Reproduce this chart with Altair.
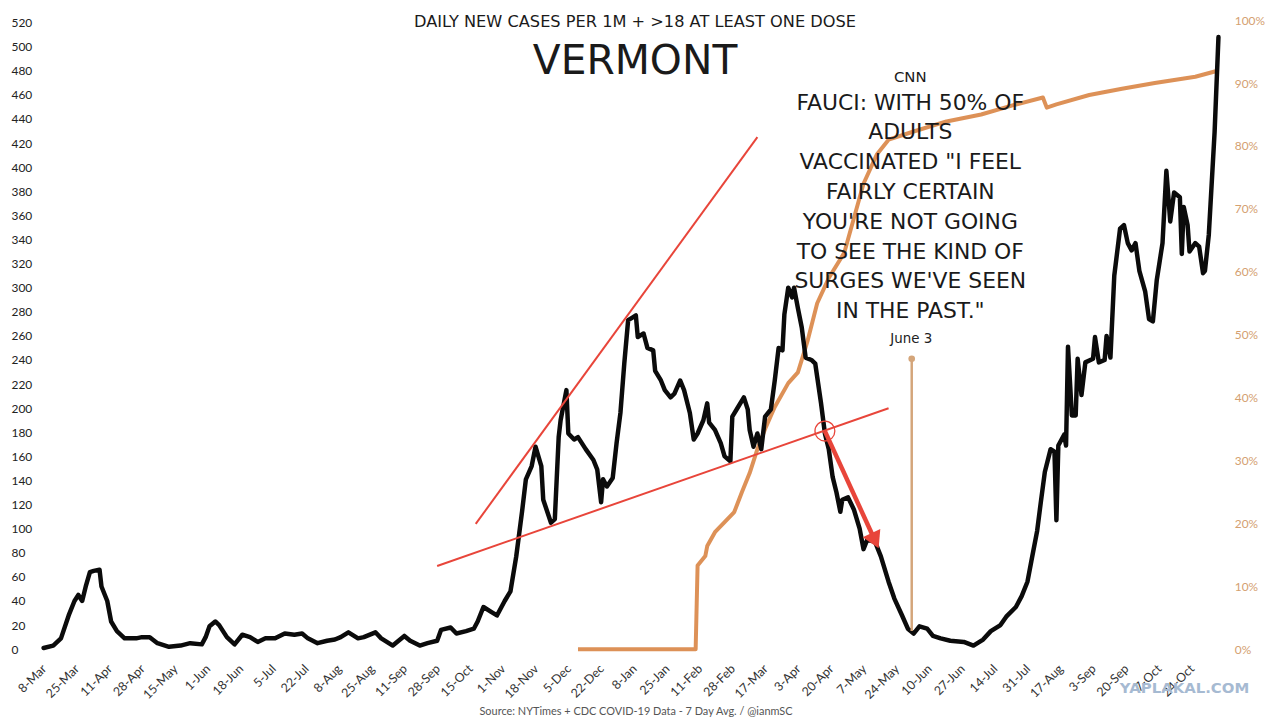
import altair as alt
import pandas as pd

# ---------------- data ----------------
CASE_DATES = [
    "2020-03-10", "2020-03-15", "2020-03-19", "2020-03-23", "2020-03-26", "2020-03-28", "2020-03-30",
    "2020-04-01", "2020-04-03", "2020-04-05", "2020-04-08", "2020-04-09", "2020-04-12", "2020-04-14",
    "2020-04-17", "2020-04-21", "2020-04-27", "2020-04-30", "2020-05-04", "2020-05-08", "2020-05-14",
    "2020-05-20", "2020-05-25", "2020-05-31", "2020-06-02", "2020-06-04", "2020-06-07", "2020-06-09",
    "2020-06-13", "2020-06-17", "2020-06-21", "2020-06-25", "2020-06-29", "2020-07-03", "2020-07-08",
    "2020-07-13", "2020-07-18", "2020-07-22", "2020-07-25", "2020-07-30", "2020-08-04", "2020-08-08",
    "2020-08-11", "2020-08-15", "2020-08-20", "2020-08-23", "2020-08-29", "2020-09-01", "2020-09-07",
    "2020-09-13", "2020-09-16", "2020-09-21", "2020-09-25", "2020-09-30", "2020-10-02", "2020-10-07",
    "2020-10-10", "2020-10-15", "2020-10-19", "2020-10-21", "2020-10-24", "2020-10-28", "2020-10-31",
    "2020-11-04", "2020-11-07", "2020-11-10", "2020-11-13", "2020-11-15", "2020-11-18", "2020-11-20",
    "2020-11-23", "2020-11-24", "2020-11-28", "2020-11-30", "2020-12-02", "2020-12-03", "2020-12-06",
    "2020-12-07", "2020-12-10", "2020-12-12", "2020-12-16", "2020-12-20", "2020-12-22", "2020-12-24",
    "2020-12-25", "2020-12-27", "2020-12-30", "2021-01-01", "2021-01-03", "2021-01-05", "2021-01-07",
    "2021-01-09", "2021-01-11", "2021-01-12", "2021-01-15", "2021-01-17", "2021-01-20", "2021-01-21",
    "2021-01-24", "2021-01-26", "2021-01-29", "2021-01-31", "2021-02-03", "2021-02-05", "2021-02-08",
    "2021-02-10", "2021-02-12", "2021-02-15", "2021-02-17", "2021-02-18", "2021-02-21", "2021-02-24",
    "2021-02-26", "2021-03-01", "2021-03-02", "2021-03-05", "2021-03-08", "2021-03-10", "2021-03-11",
    "2021-03-13", "2021-03-15", "2021-03-17", "2021-03-19", "2021-03-22", "2021-03-24", "2021-03-26",
    "2021-03-28", "2021-03-29", "2021-03-31", "2021-04-02", "2021-04-03", "2021-04-05", "2021-04-07",
    "2021-04-09", "2021-04-12", "2021-04-14", "2021-04-15", "2021-04-17", "2021-04-19", "2021-04-21",
    "2021-04-23", "2021-04-25", "2021-04-27", "2021-04-28", "2021-05-01", "2021-05-04", "2021-05-07",
    "2021-05-09", "2021-05-11", "2021-05-15", "2021-05-18", "2021-05-22", "2021-05-25", "2021-05-29",
    "2021-06-01", "2021-06-04", "2021-06-07", "2021-06-11", "2021-06-14", "2021-06-18", "2021-06-23",
    "2021-06-30", "2021-07-05", "2021-07-10", "2021-07-14", "2021-07-19", "2021-07-22", "2021-07-27",
    "2021-07-30", "2021-08-02", "2021-08-04", "2021-08-07", "2021-08-09", "2021-08-11", "2021-08-14",
    "2021-08-16", "2021-08-17", "2021-08-18", "2021-08-21", "2021-08-22", "2021-08-23", "2021-08-25",
    "2021-08-27", "2021-08-28", "2021-08-30", "2021-09-01", "2021-09-05", "2021-09-06", "2021-09-08",
    "2021-09-11", "2021-09-12", "2021-09-14", "2021-09-16", "2021-09-19", "2021-09-21", "2021-09-23",
    "2021-09-25", "2021-09-27", "2021-09-29", "2021-10-02", "2021-10-04", "2021-10-06", "2021-10-08",
    "2021-10-11", "2021-10-13", "2021-10-15", "2021-10-17", "2021-10-20", "2021-10-21", "2021-10-22",
    "2021-10-24", "2021-10-25", "2021-10-28", "2021-10-30", "2021-11-01", "2021-11-02", "2021-11-04",
    "2021-11-07", "2021-11-09",
]
CASE_VALUES = [
    1, 3, 9, 28, 40, 45, 40,
    53, 64, 65, 66, 52, 40, 23,
    15, 9, 9, 10, 10, 5, 2,
    3, 5, 4, 10, 19, 23, 20,
    10, 4, 12, 10, 6, 9, 9,
    13, 12, 13, 9, 5, 7, 8,
    10, 14, 9, 10, 14, 9, 3,
    11, 7, 3, 5, 7, 16, 18,
    13, 15, 17, 23, 35, 31, 28,
    40, 48, 77, 114, 141, 152, 168,
    152, 124, 105, 108, 176, 190, 215,
    179, 174, 176, 166, 157, 149, 122,
    141, 135, 142, 171, 196, 237, 273,
    275, 277, 259, 262, 250, 248, 231,
    223, 215, 209, 212, 223, 215, 196,
    174, 179, 190, 204, 188, 182, 171,
    160, 156, 193, 201, 209, 199, 182,
    168, 179, 166, 193, 199, 223, 250,
    248, 278, 300, 292, 300, 283, 267,
    242, 240, 237, 226, 204, 179, 166,
    143, 130, 114, 124, 126, 116, 100,
    83, 91, 89, 77, 56, 42, 28,
    17, 13, 19, 17, 11, 9, 7,
    6, 3, 8, 15, 20, 27, 35,
    44, 56, 73, 98, 123, 147, 166,
    164, 107, 169, 178, 169, 251, 194,
    194, 241, 211, 238, 241, 259, 238,
    240, 260, 242, 310, 349, 352, 337,
    331, 337, 314, 297, 274, 272, 306,
    337, 397, 355, 379, 375, 328, 367,
    352, 330, 337, 334, 312, 314, 344,
    429, 508,
]

VAX_DATES = [
    "2020-12-12", "2021-02-11", "2021-02-12", "2021-02-16", "2021-02-17", "2021-02-21", "2021-02-26",
    "2021-03-03", "2021-03-07", "2021-03-11", "2021-03-15", "2021-03-19", "2021-03-24", "2021-03-31",
    "2021-04-05", "2021-04-08", "2021-04-10", "2021-04-15", "2021-04-21", "2021-04-29", "2021-05-09",
    "2021-05-16", "2021-05-22", "2021-06-04", "2021-06-21", "2021-07-09", "2021-07-27", "2021-08-10",
    "2021-08-12", "2021-08-17", "2021-09-03", "2021-09-20", "2021-10-07", "2021-10-28", "2021-11-09",
]
VAX_SHARE = [
    0.0, 0.0, 0.133, 0.148, 0.164, 0.186, 0.202,
    0.218, 0.25, 0.28, 0.318, 0.35, 0.385, 0.423,
    0.44, 0.47, 0.49, 0.55, 0.59, 0.63, 0.74,
    0.787, 0.81, 0.823, 0.839, 0.85, 0.866, 0.877,
    0.861, 0.866, 0.881, 0.891, 0.90, 0.91, 0.92,
]

TICK_DATES = [
    "2020-03-08", "2020-03-25", "2020-04-11", "2020-04-28", "2020-05-15", "2020-06-01",
    "2020-06-18", "2020-07-05", "2020-07-22", "2020-08-08", "2020-08-25", "2020-09-11",
    "2020-09-28", "2020-10-15", "2020-11-01", "2020-11-18", "2020-12-05", "2020-12-22",
    "2021-01-08", "2021-01-25", "2021-02-11", "2021-02-28", "2021-03-17", "2021-04-03",
    "2021-04-20", "2021-05-07", "2021-05-24", "2021-06-10", "2021-06-27", "2021-07-14",
    "2021-07-31", "2021-08-17", "2021-09-03", "2021-09-20", "2021-10-07", "2021-10-24",
]
X_DOMAIN = ["2020-03-07", "2021-11-11"]
LEFT_TICKS = list(range(0, 521, 20))
RIGHT_TICKS = [i / 10 for i in range(11)]

# annotations (in data units)
TREND_START_DATES = ["2020-10-20", "2020-09-30"]
TREND_START_VALUES = [104, 69]
TREND_END_DATES = ["2021-03-15", "2021-05-22"]
TREND_END_VALUES = [425, 200]
CIRCLE_DATE = "2021-04-19"
CIRCLE_VALUE = 181
ARROW_END_DATE = "2021-05-15"
ARROW_END_VALUE = 90
QUOTE_DATE = "2021-06-03"
QUOTE_RULE_TOP = 241
QUOTE_RULE_BOTTOM = 15

TITLE = "DAILY NEW CASES PER 1M + >18 AT LEAST ONE DOSE"
STATE = "VERMONT"
CNN = "CNN"
QUOTE_LINES = [
    "FAUCI: WITH 50% OF",
    "ADULTS",
    "VACCINATED \"I FEEL",
    "FAIRLY CERTAIN",
    "YOU'RE NOT GOING",
    "TO SEE THE KIND OF",
    "SURGES WE'VE SEEN",
    "IN THE PAST.\"",
]
QUOTE_DATE_LABEL = "June 3"
SOURCE = "Source: NYTimes + CDC COVID-19 Data - 7 Day Avg. / @ianmSC"
WATERMARK = "YAPLAKAL.COM"

# ---------------- chart ----------------
FONT = "Lato"
WIDE = "DejaVu Sans"
W, H = 1192, 633
Y_DOMAIN = [0, 522]


def ms(d):
    return int(pd.Timestamp(d, tz="UTC").value // 10**6)


xscale = alt.Scale(type="utc", domain=[ms(d) for d in X_DOMAIN])
yscale = alt.Scale(domain=Y_DOMAIN, nice=False, zero=False)

x_axis = alt.Axis(
    values=[ms(d) for d in TICK_DATES],
    labelExpr="utcFormat(datum.value, '%-d-%b')",
    labelAngle=-45,
    labelFontSize=12.5,
    labelFont=FONT,
    labelColor="#333333",
    labelOverlap=False,
    labelFlush=False,
    labelBound=False,
    domain=False,
    ticks=False,
    tickSize=0,
    grid=False,
    labelPadding=13,
    title=None,
)
y_axis = alt.Axis(
    values=LEFT_TICKS,
    labelFontSize=12,
    labelFont=FONT,
    labelColor="#222222",
    labelAlign="left",
    labelPadding=27,
    labelOverlap=False,
    domain=False,
    ticks=False,
    tickSize=0,
    grid=False,
    title=None,
    orient="left",
)
r_axis = alt.Axis(
    values=RIGHT_TICKS,
    format=".0%",
    labelFontSize=12,
    labelFont=FONT,
    labelColor="#d4a070",
    labelPadding=12,
    labelOverlap=False,
    domain=False,
    ticks=False,
    tickSize=0,
    grid=False,
    title=None,
    orient="right",
)

cases = pd.DataFrame({"date": CASE_DATES, "value": CASE_VALUES})
vax = pd.DataFrame({"date": VAX_DATES, "share": VAX_SHARE})
trend = pd.DataFrame({
    "d1": TREND_START_DATES, "v1": TREND_START_VALUES,
    "d2": TREND_END_DATES, "v2": TREND_END_VALUES,
})
arrow = pd.DataFrame({"d1": [CIRCLE_DATE], "v1": [CIRCLE_VALUE],
                      "d2": [ARROW_END_DATE], "v2": [ARROW_END_VALUE]})
circle = pd.DataFrame({"date": [CIRCLE_DATE], "value": [CIRCLE_VALUE]})
head = pd.DataFrame({"date": [ARROW_END_DATE], "value": [ARROW_END_VALUE]})
qrule = pd.DataFrame({"date": [QUOTE_DATE], "top": [QUOTE_RULE_TOP], "bottom": [QUOTE_RULE_BOTTOM]})

RED = "#e8453a"


def X(field):
    return alt.X(field, scale=xscale, axis=x_axis)


def Y(field):
    return alt.Y(field, scale=yscale, axis=y_axis)


black = alt.Chart(cases).mark_line(
    color="#0b0b0b", strokeWidth=4.5, strokeJoin="round", strokeCap="round"
).encode(x=X("date:T"), y=Y("value:Q"))

trend_lines = alt.Chart(trend).mark_rule(color=RED, strokeWidth=2).encode(
    x=X("d1:T"), x2="d2:T", y=Y("v1:Q"), y2="v2:Q",
)

arrow_shaft = alt.Chart(arrow).mark_rule(color=RED, strokeWidth=4.5).encode(
    x=X("d1:T"), x2="d2:T", y=Y("v1:Q"), y2="v2:Q",
)

arrow_head = alt.Chart(head).mark_point(
    shape="triangle-up", filled=True, color=RED, size=380, angle=155, opacity=1
).encode(x=X("date:T"), y=Y("value:Q"))

circ = alt.Chart(circle).mark_point(
    shape="circle", filled=False, color=RED, size=400, strokeWidth=1.3, opacity=1
).encode(x=X("date:T"), y=Y("value:Q"))

june_rule = alt.Chart(qrule).mark_rule(color="#d4a57a", strokeWidth=2.5).encode(
    x=X("date:T"), y=Y("top:Q"), y2="bottom:Q",
)
june_dot = alt.Chart(qrule).mark_point(
    shape="circle", filled=True, color="#d4a57a", size=45, opacity=1
).encode(x=X("date:T"), y=Y("top:Q"))


def txt(s, x, y, size, color="#1a1a1a", font=WIDE, weight="normal", baseline="middle", **kw):
    return alt.Chart(pd.DataFrame({"t": [s]})).mark_text(
        font=font, fontSize=size, color=color, fontWeight=weight,
        align="center", baseline=baseline, **kw
    ).encode(x=alt.value(x), y=alt.value(y), text="t:N")


june_label = txt(QUOTE_DATE_LABEL, 879, 321, 13.5, color="#222222")
title_t = txt(TITLE, 601, 2, 16.3)
state_t = txt(STATE, 601, 42, 41)
cnn_t = txt(CNN, 878, 57, 15)
quote_t = txt("\n".join(QUOTE_LINES), 878, 73, 22, baseline="top", lineBreak="\n", lineHeight=30)
source_t = txt(SOURCE, 602, 696, 11, color="#555555", font=FONT)
mark_t = txt(WATERMARK, 1154, 672, 15, color="#a6bad2", weight="bold")

left = alt.layer(
    black, trend_lines, arrow_shaft, arrow_head, circ,
    june_rule, june_dot, june_label,
    title_t, state_t, cnn_t, quote_t, source_t, mark_t,
)

orange = alt.Chart(vax).mark_line(
    color="#db8b4e", strokeWidth=4, strokeJoin="round", opacity=0.95
).encode(
    x=X("date:T"),
    y=alt.Y("share:Q", scale=alt.Scale(domain=[0, 1], nice=False), axis=r_axis),
)

chart = alt.layer(orange, left).resolve_scale(y="independent").properties(
    width=W,
    height=H,
    autosize=alt.AutoSizeParams(type="none"),
    padding={"left": 30, "top": 10, "right": 50, "bottom": 68},
    background="white",
).configure_view(stroke=None)

chart.save("out.html", embed_options={"renderer": "svg", "actions": False})
